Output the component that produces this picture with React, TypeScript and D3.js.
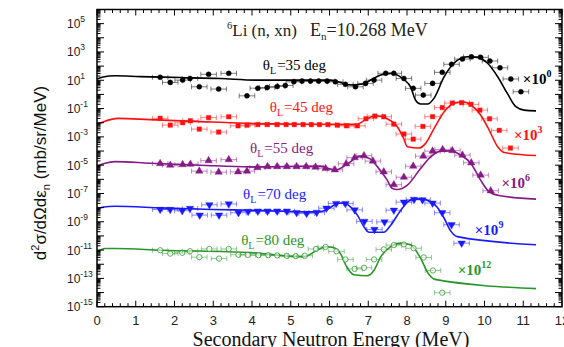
import React from 'react';
import * as d3 from 'd3';

// ---------- axis ticks ----------
const xMajorTicks = [0, 1, 2, 3, 4, 5, 6, 7, 8, 9, 10, 11, 12];
const yLabelExponents = [5, 3, 1, -1, -3, -5, -7, -9, -11, -13, -15];

// ---------- experimental points: energy (MeV) and log10 of scaled cross section ----------
const exp35E = [1.63, 1.89, 2.21, 2.40, 2.64, 2.88, 3.14, 3.40, 3.87, 4.15, 4.39, 4.65, 4.86, 5.08, 5.29, 5.51, 5.72, 5.94, 6.15, 6.41, 6.67, 6.93, 7.15, 7.45, 7.66, 7.92, 8.16, 8.42, 8.66, 8.91, 9.15, 9.43, 9.66, 9.90, 10.14, 10.40, 10.68, 10.94];
const exp35Log = [1.21, 0.85, 1.01, 1.13, 0.54, 1.42, 0.38, 1.49, -0.10, 0.44, 0.48, 0.56, 0.63, 0.89, 0.94, 0.94, 0.94, 0.94, 0.89, 0.71, 0.54, 0.78, 1.01, 1.49, 1.49, 1.13, 0.43, -0.05, 0.78, 1.56, 2.13, 2.50, 2.66, 2.62, 2.36, 1.88, 1.09, 0.19];

const exp45E = [1.63, 1.89, 2.21, 2.41, 2.64, 2.88, 3.14, 3.40, 3.64, 3.87, 4.15, 4.39, 4.65, 4.88, 5.09, 5.32, 5.53, 5.74, 5.96, 6.20, 6.44, 6.72, 6.94, 7.17, 7.40, 7.66, 7.92, 8.16, 8.41, 8.66, 8.91, 9.17, 9.41, 9.65, 9.88, 10.13, 10.38, 10.67];
const exp45Log = [-1.69, -2.17, -2.00, -1.86, -2.45, -1.64, -2.66, -1.58, -2.22, -2.17, -2.13, -2.13, -2.13, -2.13, -2.13, -2.13, -2.13, -2.13, -2.13, -2.17, -2.22, -2.22, -1.72, -1.53, -1.58, -2.10, -2.80, -3.16, -2.26, -1.57, -0.93, -0.61, -0.58, -0.70, -1.11, -1.72, -2.54, -3.79];

const exp55E = [1.63, 1.89, 2.21, 2.41, 2.64, 2.88, 3.14, 3.40, 3.64, 3.87, 4.14, 4.40, 4.65, 4.90, 5.15, 5.40, 5.64, 5.90, 6.14, 6.43, 6.65, 6.89, 7.12, 7.40, 7.66, 7.92, 8.16, 8.42, 8.66, 8.92, 9.17, 9.43, 9.66, 9.90, 10.16];
const exp55Log = [-4.88, -5.00, -4.96, -4.93, -5.42, -4.68, -5.49, -4.61, -5.47, -5.42, -5.17, -5.10, -5.10, -5.10, -5.10, -5.10, -5.14, -5.23, -5.33, -4.90, -4.47, -4.33, -4.71, -5.47, -6.38, -5.85, -5.07, -4.36, -4.01, -3.90, -3.97, -4.29, -4.83, -5.70, -6.81];

const exp70E = [1.63, 1.89, 2.20, 2.40, 2.65, 2.90, 3.15, 3.40, 3.65, 3.90, 4.15, 4.40, 4.65, 4.90, 5.15, 5.41, 5.67, 5.92, 6.17, 6.41, 6.65, 6.90, 7.16, 7.42, 7.66, 7.92, 8.18, 8.40, 8.66, 8.91, 9.15, 9.41];
const exp70Log = [-8.13, -8.13, -8.22, -8.06, -8.53, -7.80, -8.53, -7.74, -8.36, -8.27, -8.25, -8.25, -8.25, -8.25, -8.36, -8.41, -8.34, -8.04, -7.71, -7.71, -8.16, -8.97, -9.54, -9.01, -8.18, -7.61, -7.42, -7.45, -7.68, -8.36, -9.21, -10.51];

const exp80E = [1.63, 1.89, 2.20, 2.40, 2.64, 2.90, 3.15, 3.40, 3.65, 3.89, 4.17, 4.42, 4.65, 4.90, 5.13, 5.36, 5.65, 5.90, 6.18, 6.41, 6.65, 6.89, 7.15, 7.40, 7.66, 7.92, 8.17, 8.43, 8.67, 8.91];
const exp80Log = [-11.01, -11.25, -11.19, -11.08, -11.50, -10.92, -11.60, -10.92, -11.33, -11.34, -11.36, -11.36, -11.38, -11.41, -11.43, -11.40, -10.92, -10.78, -11.09, -11.66, -12.33, -12.25, -11.66, -10.95, -10.65, -10.60, -10.87, -11.52, -12.44, -14.01];

// ---------- calculated curves ----------
const calc35E = [0, 0.155, 0.465, 1.11, 2.15, 3.18, 4.09, 6.03, 6.54, 6.85, 7.11, 7.32, 7.58, 7.78, 7.94, 8.09, 8.22, 8.35, 8.53, 8.70, 8.96, 9.21, 9.56, 9.82, 10.08, 10.34, 10.59, 10.81, 11.02, 11.33];
const calc35Log = [1.085, 1.23, 1.32, 1.26, 1.19, 1.12, 1.01, 1.01, 0.66, 0.73, 1.09, 1.37, 1.49, 1.33, 1.01, 0.54, -0.40, -0.68, -0.68, -0.26, 1.25, 2.20, 2.66, 2.62, 2.20, 1.25, 0.07, -0.87, -1.11, -1.16];

const calc45E = [0, 0.21, 0.54, 1.37, 2.66, 4.09, 6.70, 6.96, 7.19, 7.45, 7.75, 7.91, 8.01, 8.31, 8.48, 8.70, 8.96, 9.21, 9.43, 9.65, 9.90, 10.12, 10.34, 10.51, 11.33];
const calc45Log = [-2.12, -1.89, -1.69, -1.78, -1.92, -2.05, -2.12, -1.74, -1.51, -1.67, -2.29, -3.09, -3.70, -3.79, -3.46, -2.40, -1.23, -0.63, -0.52, -0.75, -1.46, -2.52, -3.70, -4.11, -4.32];

const calc55E = [0, 0.21, 0.47, 1.37, 2.66, 3.96, 5.77, 6.15, 6.49, 6.80, 7.06, 7.24, 7.49, 7.62, 7.75, 8.01, 8.35, 8.61, 8.87, 9.13, 9.39, 9.65, 9.90, 10.12, 10.34, 11.33];
const calc55Log = [-5.07, -4.86, -4.75, -4.86, -5.00, -5.12, -5.07, -5.35, -4.86, -4.36, -4.57, -5.12, -6.06, -6.65, -6.72, -6.41, -5.23, -4.41, -4.01, -3.99, -4.29, -4.88, -6.06, -6.88, -7.12, -7.40];

const calc70E = [0, 0.13, 0.47, 1.67, 2.97, 3.96, 5.68, 5.90, 6.20, 6.37, 6.54, 6.72, 6.89, 7.02, 7.40, 7.58, 7.84, 8.09, 8.35, 8.61, 8.78, 8.96, 9.13, 9.30, 11.33];
const calc70Log = [-8.18, -7.97, -7.90, -8.02, -8.13, -8.18, -8.30, -8.18, -7.71, -7.66, -7.95, -8.53, -9.36, -9.74, -9.74, -9.24, -8.18, -7.47, -7.38, -7.58, -7.97, -8.75, -9.66, -10.05, -10.62];

const calc80E = [0, 0.21, 0.47, 1.67, 3.96, 5.33, 5.68, 5.90, 6.12, 6.28, 6.45, 6.63, 6.97, 7.15, 7.32, 7.58, 7.84, 8.09, 8.35, 8.55, 8.72, 11.33];
const calc80Log = [-11.13, -10.89, -10.89, -11.01, -11.18, -11.48, -11.01, -10.76, -10.83, -11.24, -12.21, -12.74, -12.81, -12.42, -11.48, -10.76, -10.51, -10.62, -11.57, -12.66, -13.07, -13.72];

const angles = ['35', '45', '55', '70', '80'];
const scaleExponents = ['0', '3', '6', '9', '12'];
const energyHalfWidth = 0.2;

// ---------- styling / placement ----------
const styles = [
  { color: '#000000', marker: 'circle', open: false, labelE: 4.28, labelLog: 1.72, facE: 10.99, facLog: 0.73 },
  { color: '#ff1010', marker: 'square', open: false, labelE: 4.46, labelLog: -1.23, facE: 10.76, facLog: -3.23 },
  { color: '#861a86', marker: 'triangle', open: false, labelE: 3.95, labelLog: -4.17, facE: 10.44, facLog: -6.62 },
  { color: '#1a1aff', marker: 'triangleDown', open: false, labelE: 3.77, labelLog: -7.42, facE: 9.75, facLog: -9.95 },
  { color: '#2a962a', marker: 'circle', open: true, labelE: 3.72, labelLog: -10.65, facE: 9.31, facLog: -12.78 },
];

const expE = [exp35E, exp45E, exp55E, exp70E, exp80E];
const expLog = [exp35Log, exp45Log, exp55Log, exp70Log, exp80Log];
const calcE = [calc35E, calc45E, calc55E, calc70E, calc80E];
const calcLog = [calc35Log, calc45Log, calc55Log, calc70Log, calc80Log];

const W = 564;
const H = 347;
const PL = 97, PR = 562, PT = 9.5, PB = 306.7;

const xScale = d3.scaleLinear().domain([0, 12]).range([PL, PR]);
const yScale = d3.scaleLog().domain([1e-15, 1e6]).range([PB, PT]);

const SERIF = '"Liberation Serif", "Times New Roman", serif';
const SANS = '"Liberation Sans", Arial, sans-serif';

function markerPath(kind: string, open: boolean) {
  let sym = d3.symbolCircle;
  let size = open ? 22 : 20;
  if (kind === 'square') { sym = d3.symbolSquare; size = 20; }
  if (kind === 'triangle' || kind === 'triangleDown') { sym = d3.symbolTriangle; size = 24; }
  return d3.symbol().type(sym).size(size)() as string;
}

export default function App() {
  const line = d3.line<[number, number]>()
    .x((d) => xScale(d[0]))
    .y((d) => yScale(Math.pow(10, d[1])))
    .curve(d3.curveMonotoneX);

  const xMinor: number[] = d3.range(0, 12.001, 0.2).map((v) => Math.round(v * 10) / 10);
  const yMajor: number[] = d3.range(-15, 7).map((k) => Math.pow(10, k));
  const yMinor: number[] = [];
  for (let k = -15; k < 6; k++) for (let m = 2; m <= 9; m++) yMinor.push(m * Math.pow(10, k));

  return (
    <svg width={W} height={H} style={{ position: 'absolute', left: 0, top: 0, background: '#fff' }}>
      <rect x={0} y={0} width={W} height={H} fill="#fff" />
      {/* curves */}
      {styles.map((s, i) => (
        <path key={'c' + i} d={line(calcE[i].map((e, j) => [e, calcLog[i][j]] as [number, number])) || ''}
          fill="none" stroke={s.color} strokeWidth={1.6} />
      ))}
      {/* experimental points with error bars */}
      {styles.map((s, i) => (
        <g key={'p' + i}>
          {expE[i].map((e, j) => {
            const cx = xScale(e);
            const cy = yScale(Math.pow(10, expLog[i][j]));
            const x0 = xScale(e - energyHalfWidth);
            const x1 = xScale(e + energyHalfWidth);
            return (
              <g key={j}>
                <g stroke={s.color} strokeOpacity={0.5} strokeWidth={1}>
                  <line x1={x0} x2={x1} y1={cy} y2={cy} />
                  <line x1={x0} x2={x0} y1={cy - 2.5} y2={cy + 2.5} />
                  <line x1={x1} x2={x1} y1={cy - 2.5} y2={cy + 2.5} />
                </g>
                <path d={markerPath(s.marker, s.open)}
                  transform={`translate(${cx},${cy})${s.marker === 'triangleDown' ? ' rotate(180)' : ''}`}
                  fill={s.open ? '#ffffff' : s.color}
                  fillOpacity={s.open ? 0.6 : 1}
                  stroke={s.color} strokeOpacity={s.open ? 0.75 : 1} strokeWidth={s.open ? 1 : 0.4} />
              </g>
            );
          })}
        </g>
      ))}
      {/* series labels */}
      {styles.map((s, i) => (
        <text key={'l' + i} x={xScale(s.labelE)} y={yScale(Math.pow(10, s.labelLog))}
          fontFamily={SERIF} fontSize={15} fill={s.color}>
          θ<tspan dy={4} fontSize={10}>L</tspan><tspan dy={-4} dx={1}>={angles[i]} deg</tspan>
        </text>
      ))}
      {styles.map((s, i) => (
        <text key={'f' + i} x={xScale(s.facE)} y={yScale(Math.pow(10, s.facLog))}
          fontFamily={SERIF} fontSize={15} fontWeight="bold" fill={s.color}>
          ×10<tspan dy={-7} fontSize={10}>{scaleExponents[i]}</tspan>
        </text>
      ))}
      {/* title */}
      <text x={227} y={36} fontFamily={SERIF} fontSize={17} fill="#222">
        <tspan dy={-7} fontSize={10.5}>6</tspan><tspan dy={7}>Li (n, xn)</tspan>
      </text>
      <text x={310} y={36} fontFamily={SERIF} fontSize={18} fill="#222">
        E<tspan dy={4} fontSize={11}>n</tspan><tspan dy={-4}>=10.268 MeV</tspan>
      </text>
      {/* frame */}
      <rect x={PL} y={PT} width={PR - PL} height={PB - PT} fill="none" stroke="#000" strokeWidth={1.5} />
      {/* ticks */}
      <g stroke="#000" strokeWidth={1}>
        {xMinor.map((v, i) => {
          const major = Math.abs(v - Math.round(v)) < 1e-6;
          const len = major ? 6 : 3.5;
          const xp = xScale(v);
          return (
            <g key={'xt' + i}>
              <line x1={xp} x2={xp} y1={PB} y2={PB - len} />
              <line x1={xp} x2={xp} y1={PT} y2={PT + len} />
            </g>
          );
        })}
        {yMajor.map((v, i) => {
          const yp = yScale(v);
          return (
            <g key={'ym' + i}>
              <line x1={PL} x2={PL + 7} y1={yp} y2={yp} />
              <line x1={PR} x2={PR - 7} y1={yp} y2={yp} />
            </g>
          );
        })}
        {yMinor.map((v, i) => {
          const yp = yScale(v);
          return (
            <g key={'yn' + i}>
              <line x1={PL} x2={PL + 3.5} y1={yp} y2={yp} />
              <line x1={PR} x2={PR - 3.5} y1={yp} y2={yp} />
            </g>
          );
        })}
      </g>
      {/* x tick labels */}
      {xMajorTicks.map((v) => (
        <text key={'xl' + v} x={xScale(v)} y={325} textAnchor="middle" fontFamily={SANS} fontSize={13} fill="#222">{v}</text>
      ))}
      {/* y tick labels */}
      {yLabelExponents.map((k) => (
        <text key={'yl' + k} x={67} y={yScale(Math.pow(10, k)) + 4.5} fontFamily={SANS} fontSize={12} fill="#222">
          10<tspan dy={-6} fontSize={8.5}>{k}</tspan>
        </text>
      ))}
      {/* axis titles */}
      <text transform="translate(46,173) rotate(-90)" textAnchor="middle" fontFamily={SANS} fontSize={17} fill="#111">
        d<tspan dy={-7} fontSize={11}>2</tspan><tspan dy={7}>σ/dΩdε</tspan><tspan dy={4} fontSize={11}>n</tspan><tspan dy={-4}> (mb/sr/MeV)</tspan>
      </text>
      <text x={331} y={346} textAnchor="middle" fontFamily={SERIF} fontSize={20} fill="#111">Secondary Neutron Energy (MeV)</text>
    </svg>
  );
}
